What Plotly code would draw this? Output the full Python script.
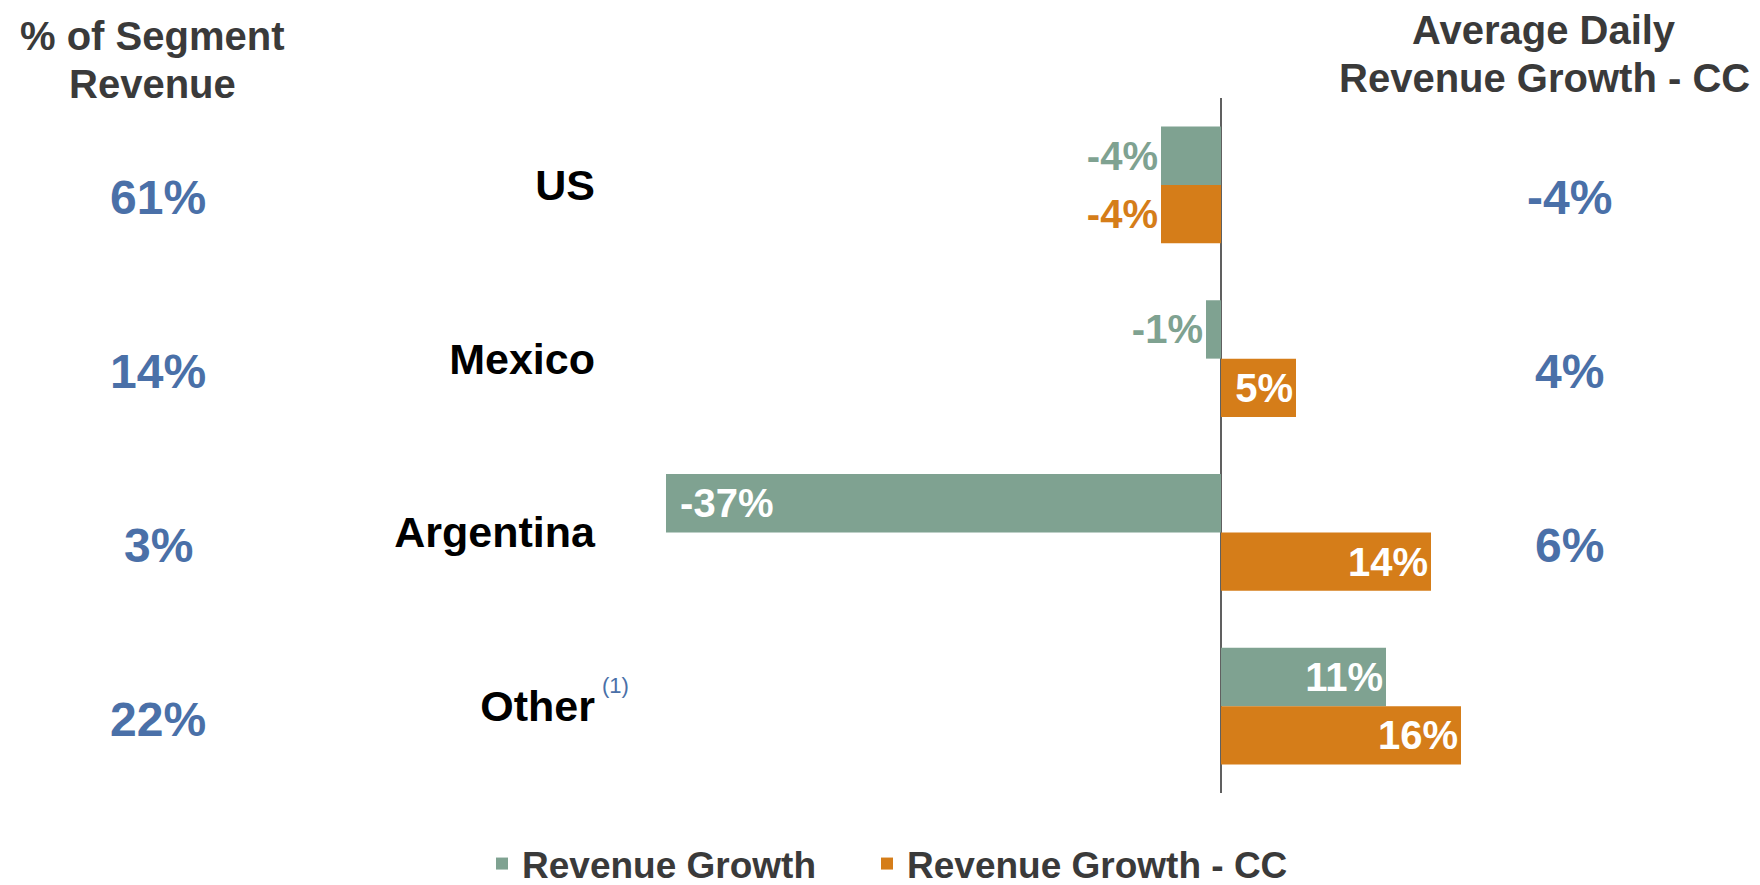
import plotly.graph_objects as go

# ---- data ----
categories = ["US", "Mexico", "Argentina", "Other"]
revenue_growth = [-4, -1, -37, 11]
revenue_growth_cc = [-4, 5, 14, 16]
segment_share = ["61%", "14%", "3%", "22%"]
adr_growth_cc = ["-4%", "4%", "6%", ""]
left_header = ["% of Segment", "Revenue"]
right_header = ["Average Daily", "Revenue Growth - CC"]

# ---- styles ----
GREEN = "#7fa291"
ORANGE = "#d57d19"
BLUE = "#4a70a8"
DARK = "#3a3a3a"
FONT = "Liberation Sans, Arial, sans-serif"

W, H = 1760, 885
ML, MR, MT, MB = 598, 247, 90, 100
PW = W - ML - MR
PH = H - MT - MB


def px_x(px):
    return (px - ML) / PW


def px_y(py):
    return (H - MB - py) / PH


fig = go.Figure()
fig.add_trace(go.Bar(
    name="Revenue Growth",
    y=categories, x=revenue_growth, orientation="h",
    marker=dict(color=GREEN, line=dict(width=0)),
    text=[f"\u00a0{v}%" for v in revenue_growth],
    textposition=["outside", "outside", "inside", "inside"],
    insidetextanchor="end",
    insidetextfont=dict(color="white", size=40, family=FONT, weight="bold"),
    outsidetextfont=dict(color=GREEN, size=40, family=FONT, weight="bold"),
    textangle=0, constraintext="none", cliponaxis=False,
    legendwidth=340,
))
fig.add_trace(go.Bar(
    name="Revenue Growth - CC",
    y=categories, x=revenue_growth_cc, orientation="h",
    marker=dict(color=ORANGE, line=dict(width=0)),
    text=[f"\u00a0{v}%" for v in revenue_growth_cc],
    textposition=["outside", "inside", "inside", "inside"],
    insidetextanchor="end",
    insidetextfont=dict(color="white", size=40, family=FONT, weight="bold"),
    outsidetextfont=dict(color=ORANGE, size=40, family=FONT, weight="bold"),
    textangle=0, constraintext="none", cliponaxis=False,
))

annotations = []
for cat, share in zip(categories, segment_share):
    annotations.append(dict(
        text=share, xref="paper", yref="y", x=px_x(150), y=cat, yshift=-13,
        xanchor="center", yanchor="middle", showarrow=False,
        font=dict(size=48, color=BLUE, family=FONT, weight="bold")))
for cat, g in zip(categories, adr_growth_cc):
    if g:
        annotations.append(dict(
            text=g, xref="paper", yref="y", x=px_x(1561), y=cat, yshift=-13,
            xanchor="center", yanchor="middle", showarrow=False,
            font=dict(size=48, color=BLUE, family=FONT, weight="bold")))

for line, py in zip(left_header, [28, 76]):
    annotations.append(dict(
        text=line, xref="paper", yref="paper",
        x=px_x(144), y=px_y(py), xanchor="center", yanchor="middle", showarrow=False,
        font=dict(size=40, color=DARK, family=FONT, weight="bold")))
for line, py in zip(right_header, [22, 70]):
    annotations.append(dict(
        text=line, xref="paper", yref="paper",
        x=px_x(1536), y=px_y(py), xanchor="center", yanchor="middle", showarrow=False,
        font=dict(size=40, color=DARK, family=FONT, weight="bold")))

annotations.append(dict(
    text="(1)", xref="paper", yref="y", x=px_x(592), y="Other", yshift=21,
    xanchor="left", yanchor="middle", showarrow=False,
    font=dict(size=22, color=BLUE, family=FONT)))

fig.update_layout(
    width=W, height=H,
    margin=dict(l=ML, r=MR, t=MT, b=MB, autoexpand=False),
    plot_bgcolor="white", paper_bgcolor="white",
    barmode="group", bargap=0.328, bargroupgap=0,
    font=dict(family=FONT),
    xaxis=dict(range=[-41, 20], showgrid=False, zeroline=True,
               zerolinecolor="#606060", zerolinewidth=1.5,
               showticklabels=False, ticks="", showline=False),
    yaxis=dict(type="category", categoryorder="array", categoryarray=categories,
               range=[3.5, -0.5], showgrid=False, zeroline=False, ticks="",
               showline=False, ticklabelstandoff=10,
               tickfont=dict(size=43, color="black", family=FONT, weight="bold")),
    showlegend=True,
    legend=dict(orientation="h", x=px_x(474), xanchor="left",
                y=px_y(856), yanchor="middle",
                font=dict(size=37, color=DARK, family=FONT, weight="bold"),
                traceorder="normal", bgcolor="rgba(0,0,0,0)"),
    annotations=annotations,
)

fig.write_html("out.html")
